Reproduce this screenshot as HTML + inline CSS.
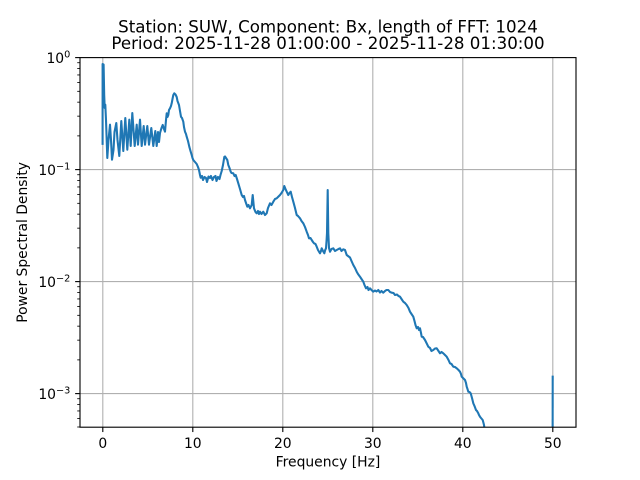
<!DOCTYPE html>
<html>
<head>
<meta charset="utf-8">
<style>
  html, body { margin: 0; padding: 0; background: #ffffff; }
  svg { display: block; }
  text { font-family: "DejaVu Sans", "Liberation Sans", sans-serif; fill: #000; }
</style>
</head>
<body>
<svg width="640" height="480" viewBox="0 0 640 480" xmlns="http://www.w3.org/2000/svg">
  <defs>
    <clipPath id="ax">
      <rect x="80" y="57.6" width="496" height="369.6"/>
    </clipPath>
  </defs>
  <rect x="0" y="0" width="640" height="480" fill="#ffffff"/>

  <!-- grid -->
  <g stroke="#b0b0b0" stroke-width="1.11" fill="none">
    <line x1="102.8" y1="57.6" x2="102.8" y2="427.2"/>
    <line x1="192.8" y1="57.6" x2="192.8" y2="427.2"/>
    <line x1="282.8" y1="57.6" x2="282.8" y2="427.2"/>
    <line x1="372.8" y1="57.6" x2="372.8" y2="427.2"/>
    <line x1="462.8" y1="57.6" x2="462.8" y2="427.2"/>
    <line x1="552.8" y1="57.6" x2="552.8" y2="427.2"/>
    <line x1="80" y1="169.6" x2="576" y2="169.6"/>
    <line x1="80" y1="281.6" x2="576" y2="281.6"/>
    <line x1="80" y1="393.6" x2="576" y2="393.6"/>
  </g>

  <!-- data -->
  <g clip-path="url(#ax)" fill="none" stroke="#1f77b4" stroke-width="2.08" stroke-linejoin="round" stroke-linecap="square">
    <polyline points="
102.6,143.8 102.6,64 103.6,64.5 104.2,95 104.7,108 105.3,104.7 106,120 107.3,158 108.5,140 110,124.7 111,140 112,159.7 113.5,150 114.5,132 116.3,123 117.5,140 119.3,156 121.3,121 123.3,151 125.3,118 127.3,149.7 129.3,119.7 130.7,146 132.3,113 134.7,146 136.7,124.7 138,144.7 140,119.7 141.7,146 143.7,126 145,144.7 147.3,126 149,144.7 151.3,128 153.3,146 155.3,131 156.7,146 158,132 159,142 160,133
161.5,128 162.7,125 164,129 165,131.7 166,120 166.7,113.3 167.5,117 168.3,115 169,110 170,108.3 171,106 171.7,103.3 172.5,99 173.3,95 174.3,93.3 175.5,94.5 176.7,97 177.5,101 179,105 180,111 181,116.7 182,118 183.3,121.7 184,127 185,131.7 186,134 186.7,136.7 188,141 189.3,146.7 190.5,151 191.7,155 192.5,158 193.3,160 195,162 196.7,164 198,167 199,170 200,175 200.7,177.7
202,176 203,180 204.5,177 206,178 207,182 208.5,176.5 210,178 211,176 212.5,180 214,177 215.5,176 216.5,181 218,177 219.5,179 220.5,175 221.7,171 223,165 224.3,157 225,156.5 226,158 227.3,160 228.3,165 229.5,168 230.7,171.7 231.5,173 233.3,173.3 234.5,176 235.7,175 237,179 238.3,183.3 240,189 241.7,195 243,197 244,196 245,200 246,203 247.3,206.7 248.5,205 250,208.3 251.7,205 252.7,195 254,208.3 255.5,212 256.7,213.3 258,211 259,214 260,211.7 261.5,214 263.3,211.7 265,215 266.7,213.3 268,208 270,203.3 271.5,205 273.3,201.7 275,199 276.7,198.3 278,197 280,195 281.5,193 283.3,190 284.3,186 285.5,189 286.7,191.7 288.3,195 289.5,193 290.7,191.7 292,197 293.3,201.7 295,208 296.7,215 298,216 300,218.3 301.5,221 303.3,223.3 305,227 306.7,231.7 308,235 309,238.3 310.5,238 311.7,240 313,242 314,243.3 315.5,244 316.7,246.7 318,250 320,253.3 321,251 321.7,248.3 323,251 324.3,253.3 325.2,250 326,248.3 326.6,240 327,233 327.7,190 328.3,233 329,248 330,251.7 331.5,249 333.3,248.3 335,251 336.7,250 338.5,249 340,248.3 341.5,251 343.3,249.3 345,250 346.7,255 348,256 350,257.5 351.5,261 353.3,265 355,268 356.7,271.7 358,274 360,276.7 361.5,279 363.3,281.7 364.5,285 366,288.3 367.5,287 368.5,290 370,288.3 371.5,290 373.3,291.7 375,290.5 376.5,291.5 378.3,290 380,292.5 381.5,291 383.3,292.7 385,291 386.5,290 388.3,290 390,292 391.7,292.7 393.5,293 395,295 397,294.5 398.5,296 400,296.7 401.5,299 403.3,301.7 405,303 406.7,305 408.5,308 410,311.7 411.5,314 413.3,316.7 414.5,321 415.5,325 416.7,328.3 418,327 419,330 420,328.3 421,333 421.7,336.7 423,337 425,340 426.5,343 428.3,346.7 430,348 431.5,351 433.3,350 435,348.5 436.7,348.3 438.5,351 440,353.3 441.5,352 443.3,353.3 445,355 446.7,356.7 448.5,360 450,363.3 451.5,364 453.3,366.7 455,367 456.7,368.3 458.5,370 460,371.7 461,374 461.7,376.7 463,378 465,380 466,383 466.7,386.7 467.5,389 468.3,391.7 469.5,392 470.7,393.3 472,398 473.3,403.3 474.5,406 476,410 477,411 478.3,413.3 479,415 480,416.7 481,418 482.7,420 483.5,423 484,425 485,432 486,445"/>
    <polyline points="552.6,470 552.7,376.7"/>
  </g>

  <!-- spines -->
  <rect x="80" y="57.6" width="496" height="369.6" fill="none" stroke="#000" stroke-width="1.11"/>

  <!-- x ticks -->
  <g stroke="#000" stroke-width="1.11">
    <line x1="102.8" y1="427.2" x2="102.8" y2="432.06"/>
    <line x1="192.8" y1="427.2" x2="192.8" y2="432.06"/>
    <line x1="282.8" y1="427.2" x2="282.8" y2="432.06"/>
    <line x1="372.8" y1="427.2" x2="372.8" y2="432.06"/>
    <line x1="462.8" y1="427.2" x2="462.8" y2="432.06"/>
    <line x1="552.8" y1="427.2" x2="552.8" y2="432.06"/>
  </g>
  <g font-size="13.89" text-anchor="middle">
    <text x="102.8" y="448">0</text>
    <text x="192.8" y="448">10</text>
    <text x="282.8" y="448">20</text>
    <text x="372.8" y="448">30</text>
    <text x="462.8" y="448">40</text>
    <text x="552.8" y="448">50</text>
  </g>

  <!-- y major ticks -->
  <g stroke="#000" stroke-width="1.11">
    <line x1="75.14" y1="57.6" x2="80" y2="57.6"/>
    <line x1="75.14" y1="169.6" x2="80" y2="169.6"/>
    <line x1="75.14" y1="281.6" x2="80" y2="281.6"/>
    <line x1="75.14" y1="393.6" x2="80" y2="393.6"/>
  </g>
  <!-- y minor ticks -->
  <g stroke="#000" stroke-width="0.83">
    <line x1="77.22" y1="135.88" x2="80" y2="135.88"/>
    <line x1="77.22" y1="116.16" x2="80" y2="116.16"/>
    <line x1="77.22" y1="102.17" x2="80" y2="102.17"/>
    <line x1="77.22" y1="91.32" x2="80" y2="91.32"/>
    <line x1="77.22" y1="82.45" x2="80" y2="82.45"/>
    <line x1="77.22" y1="74.95" x2="80" y2="74.95"/>
    <line x1="77.22" y1="68.45" x2="80" y2="68.45"/>
    <line x1="77.22" y1="62.72" x2="80" y2="62.72"/>
    <line x1="77.22" y1="247.88" x2="80" y2="247.88"/>
    <line x1="77.22" y1="228.16" x2="80" y2="228.16"/>
    <line x1="77.22" y1="214.17" x2="80" y2="214.17"/>
    <line x1="77.22" y1="203.32" x2="80" y2="203.32"/>
    <line x1="77.22" y1="194.45" x2="80" y2="194.45"/>
    <line x1="77.22" y1="186.95" x2="80" y2="186.95"/>
    <line x1="77.22" y1="180.45" x2="80" y2="180.45"/>
    <line x1="77.22" y1="174.72" x2="80" y2="174.72"/>
    <line x1="77.22" y1="359.88" x2="80" y2="359.88"/>
    <line x1="77.22" y1="340.16" x2="80" y2="340.16"/>
    <line x1="77.22" y1="326.17" x2="80" y2="326.17"/>
    <line x1="77.22" y1="315.32" x2="80" y2="315.32"/>
    <line x1="77.22" y1="306.45" x2="80" y2="306.45"/>
    <line x1="77.22" y1="298.95" x2="80" y2="298.95"/>
    <line x1="77.22" y1="292.45" x2="80" y2="292.45"/>
    <line x1="77.22" y1="286.72" x2="80" y2="286.72"/>
    <line x1="77.22" y1="427.0" x2="80" y2="427.0"/>
    <line x1="77.22" y1="418.45" x2="80" y2="418.45"/>
    <line x1="77.22" y1="410.95" x2="80" y2="410.95"/>
    <line x1="77.22" y1="404.45" x2="80" y2="404.45"/>
    <line x1="77.22" y1="398.72" x2="80" y2="398.72"/>
  </g>
  <g font-size="13.89" text-anchor="end">
    <text x="70.3" y="63.1">10<tspan dy="-5.8" font-size="9.72">0</tspan></text>
    <text x="70.3" y="175.1">10<tspan dy="-5.8" font-size="9.72">−1</tspan></text>
    <text x="70.3" y="287.1">10<tspan dy="-5.8" font-size="9.72">−2</tspan></text>
    <text x="70.3" y="399.1">10<tspan dy="-5.8" font-size="9.72">−3</tspan></text>
  </g>

  <!-- axis labels -->
  <text x="328" y="466.5" font-size="13.89" text-anchor="middle">Frequency [Hz]</text>
  <text x="0" y="0" font-size="13.89" text-anchor="middle" transform="translate(27,242.4) rotate(-90)">Power Spectral Density</text>

  <!-- title -->
  <text x="328" y="32.4" font-size="16.67" text-anchor="middle">Station: SUW, Component: Bx, length of FFT: 1024</text>
  <text x="328" y="49" font-size="16.67" text-anchor="middle">Period: 2025-11-28 01:00:00 - 2025-11-28 01:30:00</text>
</svg>
</body>
</html>
